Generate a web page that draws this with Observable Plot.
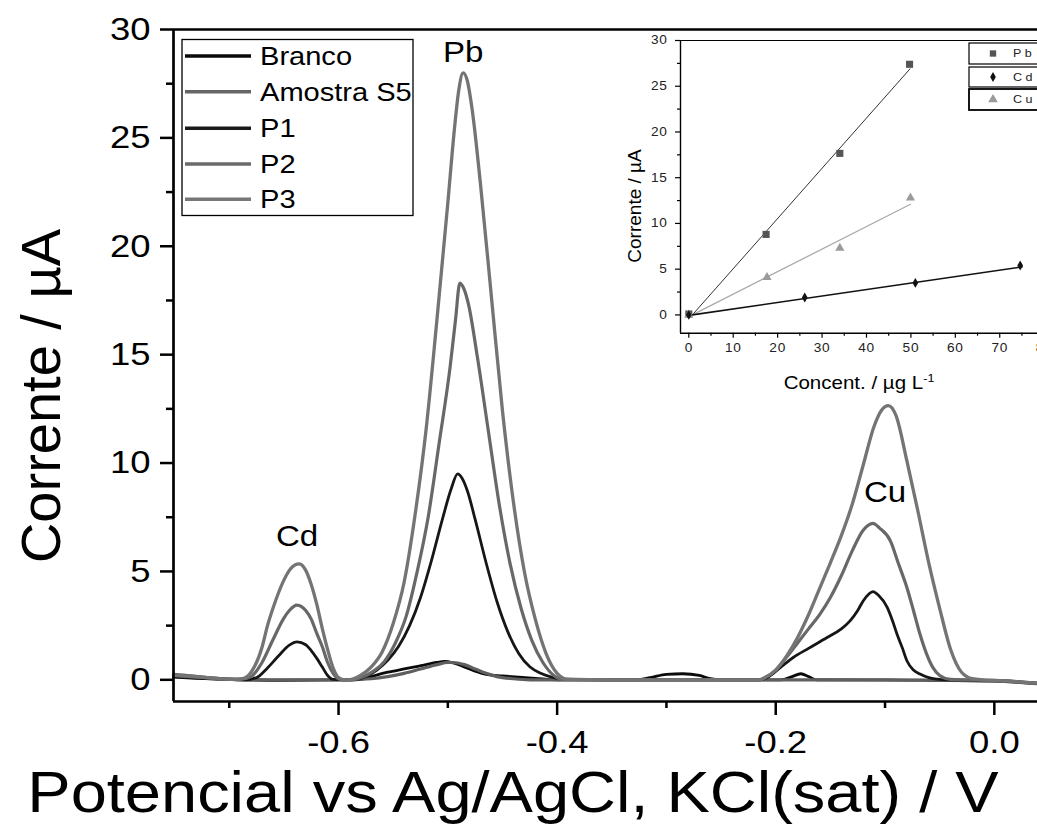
<!DOCTYPE html>
<html><head><meta charset="utf-8">
<script src="https://cdn.jsdelivr.net/npm/d3@7"></script>
<script src="https://cdn.jsdelivr.net/npm/@observablehq/plot@0.6"></script>
<style>
html,body{margin:0;padding:0;background:#fff;}
#wrap{position:relative;width:1037px;height:839px;overflow:hidden;background:#fff;}
#wrap svg{position:absolute;}
</style></head><body><div id="wrap"></div>
<script>
// ---------- main voltammograms: [potential (V), current (µA)] ----------
const branco = [[-0.751,0.12],[-0.73,0.07],[-0.71,0.03],[-0.69,0.0],[-0.65,-0.02],[-0.6,0.0],[-0.58,0.02],[-0.57,0.15],[-0.555,0.35],[-0.54,0.5],[-0.525,0.65],[-0.51,0.8],[-0.503,0.85],[-0.495,0.78],[-0.485,0.6],[-0.475,0.4],[-0.465,0.25],[-0.45,0.18],[-0.435,0.12],[-0.42,0.07],[-0.4,0.0],[-0.33,0.0],[-0.315,0.1],[-0.3,0.25],[-0.285,0.28],[-0.27,0.2],[-0.26,0.05],[-0.25,0.0],[-0.195,0.0],[-0.185,0.15],[-0.177,0.28],[-0.17,0.15],[-0.163,0.0],[-0.1,0.0],[-0.05,-0.03],[0.0,-0.06],[0.0395,-0.18]];
const amostraS5 = [[-0.751,0.25],[-0.735,0.18],[-0.72,0.1],[-0.705,0.05],[-0.69,0.02],[-0.65,0.0],[-0.6,0.0],[-0.58,0.02],[-0.57,0.05],[-0.555,0.15],[-0.54,0.3],[-0.525,0.5],[-0.51,0.7],[-0.5,0.8],[-0.495,0.8],[-0.485,0.7],[-0.475,0.5],[-0.465,0.3],[-0.455,0.15],[-0.44,0.05],[-0.425,0.0],[-0.35,0.0],[-0.25,0.0],[-0.15,0.0],[-0.05,-0.02],[0.0,-0.05],[0.0395,-0.18]];
const p1 = [[-0.751,0.15],[-0.735,0.1],[-0.72,0.06],[-0.7,0.02],[-0.685,0.0],[-0.675,0.1],[-0.665,0.55],[-0.655,1.1],[-0.645,1.6],[-0.638,1.75],[-0.63,1.62],[-0.625,1.35],[-0.62,1.0],[-0.615,0.6],[-0.61,0.2],[-0.605,0.02],[-0.595,0.0],[-0.585,0.0],[-0.575,0.15],[-0.565,0.45],[-0.555,0.9],[-0.545,1.55],[-0.535,2.5],[-0.525,3.8],[-0.515,5.5],[-0.505,7.4],[-0.497,8.8],[-0.491,9.5],[-0.487,9.3],[-0.482,8.7],[-0.475,7.4],[-0.465,5.4],[-0.455,3.6],[-0.445,2.2],[-0.435,1.2],[-0.425,0.6],[-0.415,0.3],[-0.405,0.12],[-0.395,0.03],[-0.35,0.0],[-0.3,0.0],[-0.25,0.0],[-0.215,0.0],[-0.208,0.1],[-0.195,0.6],[-0.184,1.03],[-0.17,1.45],[-0.153,1.95],[-0.14,2.35],[-0.132,2.72],[-0.125,3.2],[-0.12,3.64],[-0.115,3.95],[-0.111,4.07],[-0.106,3.9],[-0.098,3.34],[-0.093,2.7],[-0.089,2.1],[-0.084,1.45],[-0.08,0.88],[-0.074,0.45],[-0.068,0.27],[-0.06,0.1],[-0.052,0.03],[-0.045,0.0],[0.0,-0.03],[0.0395,-0.15]];
const p2 = [[-0.751,0.2],[-0.735,0.15],[-0.72,0.09],[-0.705,0.04],[-0.69,0.02],[-0.68,0.15],[-0.67,0.8],[-0.66,1.85],[-0.65,2.85],[-0.645,3.2],[-0.638,3.45],[-0.63,3.2],[-0.625,2.8],[-0.62,2.15],[-0.615,1.55],[-0.61,0.8],[-0.605,0.3],[-0.6,0.05],[-0.595,0.0],[-0.588,0.0],[-0.578,0.13],[-0.568,0.4],[-0.558,0.85],[-0.548,1.7],[-0.538,2.95],[-0.528,5.0],[-0.518,7.5],[-0.508,10.9],[-0.498,14.4],[-0.493,16.6],[-0.489,18.3],[-0.485,18.0],[-0.481,17.3],[-0.473,14.9],[-0.463,11.5],[-0.453,8.1],[-0.443,5.35],[-0.433,3.3],[-0.423,1.8],[-0.413,0.8],[-0.403,0.2],[-0.395,0.02],[-0.35,0.0],[-0.3,0.0],[-0.25,0.0],[-0.215,0.0],[-0.21,0.1],[-0.2,0.45],[-0.19,1.05],[-0.18,1.7],[-0.17,2.35],[-0.16,3.0],[-0.15,3.8],[-0.14,4.8],[-0.13,5.95],[-0.12,6.9],[-0.111,7.22],[-0.105,7.0],[-0.095,6.4],[-0.088,5.4],[-0.08,4.26],[-0.074,3.2],[-0.068,2.1],[-0.062,1.2],[-0.056,0.55],[-0.05,0.2],[-0.04,0.02],[0.0,-0.03],[0.0395,-0.15]];
const p3 = [[-0.751,0.22],[-0.735,0.16],[-0.72,0.1],[-0.705,0.04],[-0.695,0.02],[-0.688,0.05],[-0.68,0.35],[-0.67,1.5],[-0.665,2.5],[-0.66,3.3],[-0.65,4.6],[-0.645,5.05],[-0.64,5.3],[-0.636,5.35],[-0.63,5.05],[-0.625,4.4],[-0.62,3.5],[-0.615,2.4],[-0.61,1.4],[-0.605,0.55],[-0.6,0.1],[-0.595,0.0],[-0.59,0.0],[-0.58,0.2],[-0.57,0.6],[-0.56,1.3],[-0.55,2.6],[-0.54,4.5],[-0.53,7.6],[-0.52,11.5],[-0.51,16.6],[-0.5,22.0],[-0.494,25.4],[-0.49,27.2],[-0.486,28.0],[-0.482,27.6],[-0.478,26.4],[-0.47,22.8],[-0.46,17.6],[-0.45,12.4],[-0.44,8.2],[-0.43,5.0],[-0.42,2.8],[-0.41,1.2],[-0.4,0.3],[-0.39,0.02],[-0.35,0.0],[-0.3,0.0],[-0.25,0.0],[-0.215,0.0],[-0.21,0.1],[-0.2,0.45],[-0.19,1.1],[-0.18,1.95],[-0.17,3.0],[-0.16,4.2],[-0.15,5.4],[-0.14,6.65],[-0.13,8.1],[-0.12,9.9],[-0.11,11.7],[-0.103,12.45],[-0.097,12.65],[-0.09,12.2],[-0.08,10.1],[-0.07,7.8],[-0.06,5.4],[-0.05,3.3],[-0.04,1.4],[-0.03,0.35],[-0.02,0.05],[-0.01,0.0],[0.01,-0.05],[0.0395,-0.15]];

const seriesNames = ["Branco", "Amostra S5", "P1", "P2", "P3"];
const seriesData = [branco, amostraS5, p1, p2, p3];
const seriesColors = ["#0a0a0a", "#5f5f5f", "#161616", "#686868", "#747474"];
const seriesWidths = [2.8, 3.2, 2.8, 3.2, 3.3];

const xDomain = [-0.751, 0.0395];
const yDomain = [-1.0, 30];
const xMajor = [-0.6, -0.4, -0.2, 0.0];
const xMinor = [-0.7, -0.5, -0.3, -0.1];
const yMajor = [0, 5, 10, 15, 20, 25, 30];
const yMinor = [2.5, 7.5, 12.5, 17.5, 22.5, 27.5];

const peakLabels = ["Cd", "Pb", "Cu"];
const peakLabelE = [-0.638, -0.486, -0.1];
const peakLabelI = [6.6, 28.95, 8.65];

// ---------- inset calibration: [concentration (µg/L), current (µA)] ----------
const pbPoints = [[0, 0.1], [17.4, 8.8], [34.0, 17.66], [49.7, 27.4]];
const cdPoints = [[0, 0.0], [26.1, 1.9], [51.0, 3.5], [74.6, 5.4]];
const cuPoints = [[0, 0.0], [17.6, 4.1], [34.0, 7.3], [49.9, 12.8]];
const pbFit = [[0.8, 0], [49.8, 26.9]];
const cdFit = [[0.8, 0], [75.0, 5.25]];
const cuFit = [[0.8, 0], [49.9, 12.1]];
const insetX = [-1.87, 78.5];
const insetY = [-2, 30];
const insetXMajor = [0, 10, 20, 30, 40, 50, 60, 70, 80];
const insetXMinor = [5, 15, 25, 35, 45, 55, 65, 75];
const insetYMajor = [0, 5, 10, 15, 20, 25, 30];
const insetYMinor = [2.5, 7.5, 12.5, 17.5, 22.5, 27.5];
const insetLegend = ["Pb", "Cd", "Cu"];

const FONT = "'Liberation Sans', Arial, Helvetica, sans-serif";
const SX = 1.14;

// widen glyphs horizontally (the reference figure is stretched sideways)
function stretch(svg, s) {
  svg.querySelectorAll("text").forEach(t => {
    if (t.classList.contains("nostretch")) return;
    const xa = t.getAttribute("x");
    let tx = 0;
    if (xa != null && xa !== "" && !isNaN(+xa)) { tx = +xa; t.removeAttribute("x"); }
    const tr = t.getAttribute("transform") || "";
    t.setAttribute("transform", `${tr} translate(${tx},0) scale(${s},1)`);
  });
}

const lineMarks = seriesData.map((d, i) => Plot.line(d, {
  x: v => v[0], y: v => v[1], stroke: seriesColors[i], strokeWidth: seriesWidths[i],
  curve: "monotone-x", strokeLinejoin: "round"
}));

const peaks = peakLabels.map((l, i) => ({label: l, x: peakLabelE[i], y: peakLabelI[i]}));

const main = Plot.plot({
  width: 1037, height: 839,
  marginLeft: 173, marginTop: 29, marginRight: 0, marginBottom: 138,
  style: {fontFamily: FONT, background: "white", color: "black"},
  x: {domain: xDomain},
  y: {domain: yDomain},
  marks: [
    ...lineMarks,
    Plot.axisX(xMajor, {tickSize: 14, tickPadding: 15, tickFormat: d => d.toFixed(1), fontSize: 32, strokeWidth: 2.5, label: null}),
    Plot.axisX(xMinor, {tickSize: 7, tickFormat: () => "", strokeWidth: 2.5, label: null}),
    Plot.axisY(yMajor, {tickSize: 13, tickPadding: 10, tickFormat: d => String(d), fontSize: 32, strokeWidth: 2.5, label: null}),
    Plot.axisY(yMinor, {tickSize: 7, tickFormat: () => "", strokeWidth: 2.5, label: null}),
    Plot.ruleY([yDomain[1]], {strokeWidth: 2.5}),
    Plot.ruleY([yDomain[0]], {strokeWidth: 2.7}),
    Plot.ruleX([xDomain[0]], {strokeWidth: 2.7}),
    Plot.text(peaks, {x: "x", y: "y", text: "label", fontSize: 29, fill: "black"})
  ]
});

const ms = d3.select(main);
// axis titles
ms.append("text").attr("class", "nostretch")
  .attr("transform", "translate(60,396) rotate(-90)")
  .attr("text-anchor", "middle").attr("font-size", 56).attr("font-family", FONT)
  .attr("fill", "black").text("Corrente / µA");
ms.append("text")
  .attr("x", 513).attr("y", 812)
  .attr("text-anchor", "middle").attr("font-size", 57).attr("font-family", FONT)
  .attr("fill", "black").text("Potencial vs Ag/AgCl, KCl(sat) / V");
// legend
const lg = ms.append("g").attr("text-anchor", "start");
lg.append("rect").attr("x", 182).attr("y", 39.5).attr("width", 231).attr("height", 176)
  .attr("fill", "white").attr("stroke", "black").attr("stroke-width", 1.3);
const legendY = [56, 91.7, 128.3, 164, 199.3];
const legendColors = ["#0a0a0a", "#666666", "#1a1a1a", "#6a6a6a", "#777777"];
seriesNames.forEach((n, i) => {
  lg.append("line").attr("x1", 185).attr("x2", 251).attr("y1", legendY[i]).attr("y2", legendY[i])
    .attr("stroke", legendColors[i]).attr("stroke-width", 3.5);
  lg.append("text").attr("x", 260).attr("y", legendY[i]).attr("dy", "0.35em")
    .attr("text-anchor", "start")
    .attr("font-size", 25.5).attr("font-family", FONT).attr("fill", "black").text(n);
});
stretch(main, SX);
document.getElementById("wrap").appendChild(main);
main.style.left = "0px"; main.style.top = "0px";

// ---------- inset ----------
const toXY = {x: v => v[0], y: v => v[1]};
const inset = Plot.plot({
  width: 437, height: 400,
  marginLeft: 80, marginTop: 20, marginRight: 0, marginBottom: 87.3,
  style: {fontFamily: FONT, background: "transparent", color: "black"},
  x: {domain: insetX},
  y: {domain: insetY},
  marks: [
    Plot.line(pbFit, {...toXY, stroke: "#333", strokeWidth: 1}),
    Plot.line(cuFit, {...toXY, stroke: "#aaa", strokeWidth: 1.3}),
    Plot.line(cdFit, {...toXY, stroke: "#111", strokeWidth: 1.6}),
    Plot.dot(pbPoints, {...toXY, symbol: "square", fill: "#555", r: 4}),
    Plot.dot(cuPoints, {...toXY, symbol: "triangle", fill: "#9a9a9a", r: 3.4}),
    Plot.dot(cdPoints, {...toXY, symbol: "diamond", fill: "#111", r: 3}),
    Plot.axisX(insetXMajor, {tickSize: 5, tickPadding: 5, fontSize: 12, fill: "#222", strokeWidth: 1.2, label: null, tickFormat: d => String(d)}),
    Plot.axisX(insetXMinor, {tickSize: 3, tickFormat: () => "", strokeWidth: 1.2, label: null}),
    Plot.axisY(insetYMajor, {tickSize: 5, tickPadding: 8, fontSize: 12, fill: "#222", strokeWidth: 1.2, label: null, tickFormat: d => String(d)}),
    Plot.axisY(insetYMinor, {tickSize: 3, tickFormat: () => "", strokeWidth: 1.2, label: null}),
    Plot.ruleY([insetY[1]], {strokeWidth: 1.2}),
    Plot.ruleY([insetY[0]], {strokeWidth: 1.4}),
    Plot.ruleX([insetX[0]], {strokeWidth: 1.4})
  ]
});
const is = d3.select(inset);
is.selectAll("text").attr("letter-spacing", 0.6);
is.append("text").attr("class", "nostretch")
  .attr("transform", "translate(41,186) rotate(-90)")
  .attr("text-anchor", "middle").attr("font-size", 19).attr("font-family", FONT)
  .attr("fill", "black").text("Corrente / µA");
const xt = is.append("text").attr("x", 259).attr("y", 369)
  .attr("text-anchor", "middle").attr("font-size", 18).attr("font-family", FONT).attr("fill", "black");
xt.append("tspan").text("Concent. / µg L");
xt.append("tspan").attr("dy", -7).attr("font-size", 11).text("-1");
// inset legend
const boxY = [23, 47, 69];
const boxH = [21, 20, 21];
const legSym = [d3.symbolSquare, d3.symbolDiamond, d3.symbolTriangle];
const legSize = [40, 28, 40];
const legFill = ["#555", "#111", "#9a9a9a"];
insetLegend.forEach((n, i) => {
  is.append("rect").attr("x", 369).attr("y", boxY[i]).attr("width", 80).attr("height", boxH[i])
    .attr("fill", "white").attr("stroke", "black").attr("stroke-width", i === 2 ? 1.8 : 1.2);
  is.append("path").attr("d", d3.symbol(legSym[i], legSize[i])())
    .attr("transform", `translate(393,${boxY[i] + boxH[i] / 2})`).attr("fill", legFill[i]);
  is.append("text").attr("x", 413).attr("y", boxY[i] + boxH[i] / 2).attr("dy", "0.35em")
    .attr("text-anchor", "start")
    .attr("font-size", 11).attr("letter-spacing", 3).attr("font-family", FONT).attr("fill", "#222").text(n);
});
stretch(inset, SX);
document.getElementById("wrap").appendChild(inset);
inset.style.left = "600px"; inset.style.top = "20px";
</script></body></html>
